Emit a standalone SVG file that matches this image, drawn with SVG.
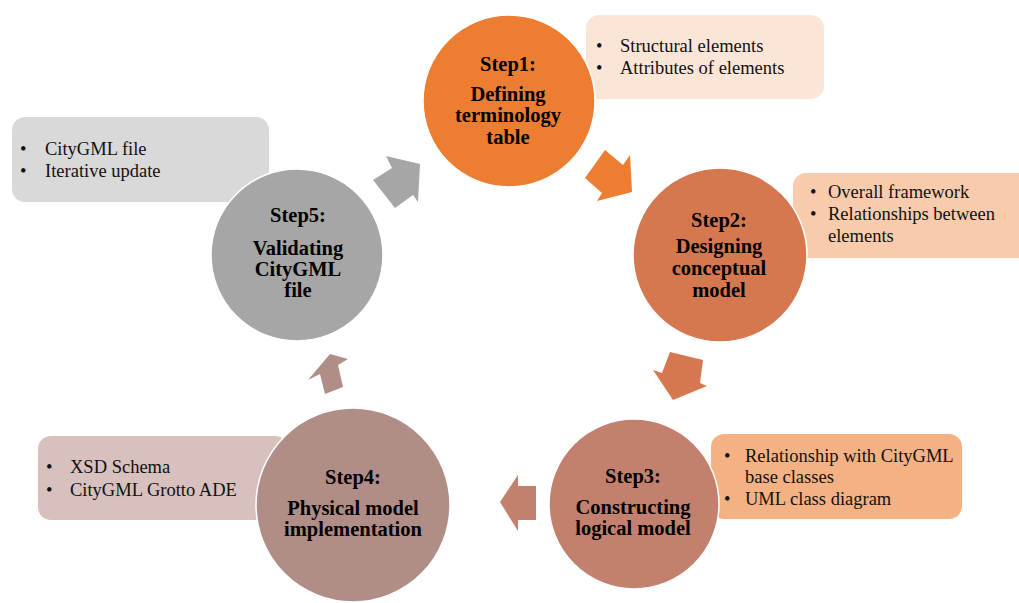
<svg xmlns="http://www.w3.org/2000/svg" width="1019" height="603" viewBox="0 0 1019 603">
<style>
.box{stroke:none}
.circ{stroke:#ffffff;stroke-width:1.5}
.ct{font-family:"Liberation Serif","Times New Roman",serif;font-weight:bold;font-size:20.5px;fill:#000;text-anchor:middle}
.bt{font-family:"Liberation Serif","Times New Roman",serif;font-size:18.5px;fill:#111}
</style>
<rect width="1019" height="603" fill="#ffffff"/>
<g id="connectors">
<polygon points="605,150 623,165 630,155 632,192 597,201 602,193 585,178" fill="#ed7d31"/>
<polygon points="670,352 703,360 700,383 707,386 673,400 653,370 662,373" fill="#d6784f"/>
<polygon points="536,486 536,520 518,520 518,531 500,502 518,475 518,486" fill="#c4806e"/>
<polygon points="330,354 348,359 338,365 343,387 325,394 320,374 308,380" fill="#b08e87"/>
<polygon points="420,164 418,202 413,195 395,208 373,180 392,168 386,156" fill="#a6a6a6"/>
</g>
<g id="step1">
<rect class="box" x="586" y="15" width="238" height="84" rx="13" fill="#fbe5d6"/>
<circle class="circ" cx="509" cy="101" r="86" fill="#ed7d31"/>
<text class="ct" x="508" y="71">Step1:</text>
<text class="ct" x="508" y="101">Defining</text>
<text class="ct" x="508" y="122">terminology</text>
<text class="ct" x="508" y="144">table</text>
<text class="bt" x="596" y="52">•</text><text class="bt" x="620" y="52">Structural elements</text>
<text class="bt" x="596" y="74">•</text><text class="bt" x="620" y="74">Attributes of elements</text>
</g>
<g id="step2">
<rect class="box" x="793" y="173" width="240" height="85" rx="13" fill="#f8cbad"/>
<circle class="circ" cx="720" cy="255" r="87" fill="#d6784f"/>
<text class="ct" x="719" y="227">Step2:</text>
<text class="ct" x="719" y="253">Designing</text>
<text class="ct" x="719" y="275">conceptual</text>
<text class="ct" x="719" y="297">model</text>
<text class="bt" x="810" y="198">•</text><text class="bt" x="828" y="198">Overall framework</text>
<text class="bt" x="810" y="220">•</text><text class="bt" x="828" y="220">Relationships between</text>
<text class="bt" x="828" y="242">elements</text>
</g>
<g id="step3">
<rect class="box" x="711" y="434" width="251" height="85" rx="13" fill="#f4b183"/>
<circle class="circ" cx="634" cy="504" r="85" fill="#c4806e"/>
<text class="ct" x="633" y="483">Step3:</text>
<text class="ct" x="633" y="514">Constructing</text>
<text class="ct" x="633" y="535">logical model</text>
<text class="bt" x="724" y="462">•</text><text class="bt" x="745" y="462">Relationship with CityGML</text>
<text class="bt" x="745" y="483">base classes</text>
<text class="bt" x="724" y="505">•</text><text class="bt" x="745" y="505">UML class diagram</text>
</g>
<g id="step4">
<rect class="box" x="38" y="436" width="250" height="84" rx="13" fill="#d7c0be"/>
<circle class="circ" cx="353" cy="505" r="97" fill="#b08e87"/>
<text class="ct" x="353" y="484">Step4:</text>
<text class="ct" x="353" y="515">Physical model</text>
<text class="ct" x="353" y="536">implementation</text>
<text class="bt" x="46" y="473">•</text><text class="bt" x="70" y="473">XSD Schema</text>
<text class="bt" x="46" y="496">•</text><text class="bt" x="70" y="496">CityGML Grotto ADE</text>
</g>
<g id="step5">
<rect class="box" x="12" y="117" width="257" height="85" rx="13" fill="#d9d9d9"/>
<circle class="circ" cx="297" cy="255" r="86" fill="#a6a6a6"/>
<text class="ct" x="298" y="222">Step5:</text>
<text class="ct" x="298" y="255">Validating</text>
<text class="ct" x="298" y="276">CityGML</text>
<text class="ct" x="298" y="297">file</text>
<text class="bt" x="20" y="155">•</text><text class="bt" x="45" y="155">CityGML file</text>
<text class="bt" x="20" y="177">•</text><text class="bt" x="45" y="177">Iterative update</text>
</g>
</svg>
